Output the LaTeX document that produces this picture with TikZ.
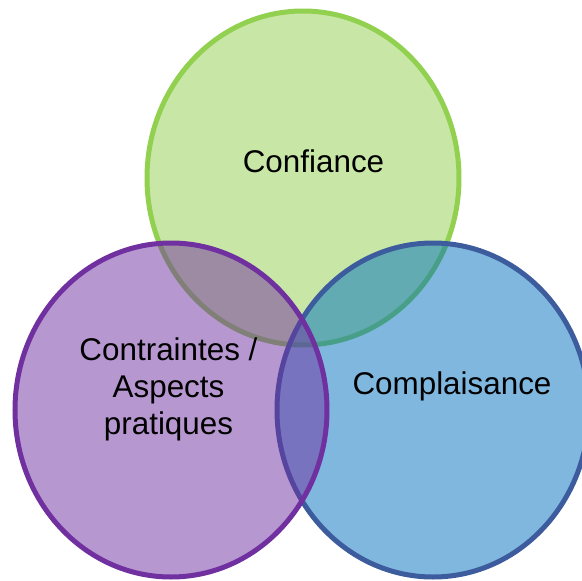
\documentclass[tikz,border=0pt]{standalone}
\usepackage{fontspec}
\setmainfont{Liberation Sans}
\definecolor{cgreen}{HTML}{92D050}
\definecolor{cpurple}{HTML}{7030A0}
\definecolor{cblue}{HTML}{0070C0}
\definecolor{cbluestroke}{HTML}{3C5C9E}
\tikzset{
  venn/.style={ellipse, minimum width=312pt, minimum height=334pt, line width=5pt, inner sep=0pt},
  lbl/.style={font=\fontsize{31.4}{37}\selectfont, align=center, text=black}
}
\usetikzlibrary{shapes.geometric}
\begin{document}
\begin{tikzpicture}[x=1pt,y=-1pt]
\useasboundingbox (0,0) rectangle (582,581);
\node[venn, draw=cgreen, fill=cgreen, fill opacity=0.5, draw opacity=1] (g) at (303,178) {};
\node[venn, draw=cbluestroke, fill=cblue, fill opacity=0.5, draw opacity=1] (b) at (433,410) {};
\node[venn, draw=cpurple, fill=cpurple, fill opacity=0.5, draw opacity=1] (p) at (171,410) {};
\node[lbl] (tg) at (313.5,161) {Confiance};
\node[lbl] (tb) at (452,386) {Complaisance};
\node[lbl] (tp) at (168.5,389) {Contraintes /\\Aspects\\pratiques};
\end{tikzpicture}
\end{document}
